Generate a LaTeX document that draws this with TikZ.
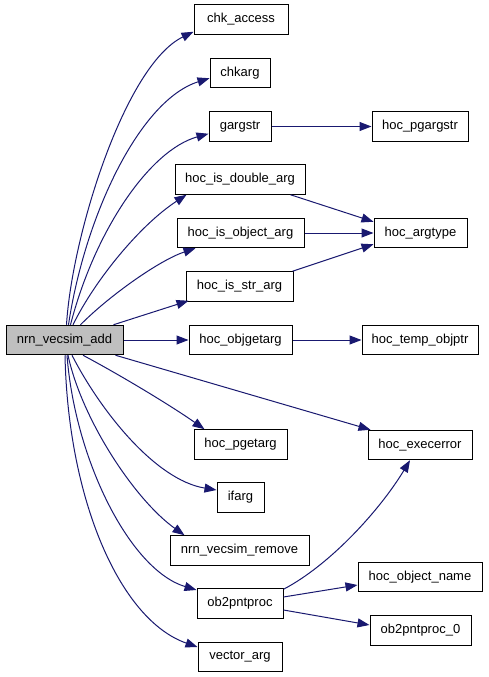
\documentclass[tikz,border=0pt]{standalone}
\usepackage{fontspec}
\setmainfont{Liberation Sans}
\usetikzlibrary{arrows.meta}
\definecolor{edgeblue}{HTML}{191970}
\definecolor{rootgrey}{HTML}{BFBFBF}
\begin{document}
\begin{tikzpicture}[x=1pt,y=-1pt,
  box/.style={draw=black,line width=1pt,fill=white,minimum height=29.5pt,inner sep=0pt,
    font=\fontsize{13}{15}\selectfont,anchor=center},
  rootbox/.style={box,fill=rootgrey},
  edge/.style={draw=edgeblue,line width=1pt,-{Triangle[length=12pt,width=9pt]},color=edgeblue}]
\useasboundingbox (0,0) rectangle (488,677);
\fill[white] (0,0) rectangle (488,677);
% nodes
\node[rootbox,minimum width=117pt] (root) at (64.5,340) {nrn\_vecsim\_add};
\node[box,minimum width=94pt] (chkaccess) at (241,19.5) {chk\_access};
\node[box,minimum width=60pt] (chkarg) at (240,73) {chkarg};
\node[box,minimum width=62pt] (gargstr) at (240,126.5) {gargstr};
\node[box,minimum width=130pt] (isdouble) at (240,179.5) {hoc\_is\_double\_arg};
\node[box,minimum width=127pt] (isobject) at (240.5,233) {hoc\_is\_object\_arg};
\node[box,minimum width=107pt] (isstr) at (239.5,286.5) {hoc\_is\_str\_arg};
\node[box,minimum width=103pt] (objgetarg) at (240.5,340) {hoc\_objgetarg};
\node[box,minimum width=93pt] (pgetarg) at (240.5,444.5) {hoc\_pgetarg};
\node[box,minimum width=47pt] (ifarg) at (240.5,497.5) {ifarg};
\node[box,minimum width=139pt] (remove) at (239.5,550.5) {nrn\_vecsim\_remove};
\node[box,minimum width=86pt] (ob2) at (240,603.5) {ob2pntproc};
\node[box,minimum width=84pt] (vecarg) at (240,657) {vector\_arg};
\node[box,minimum width=96pt] (pgargstr) at (420,126.5) {hoc\_pgargstr};
\node[box,minimum width=93pt] (argtype) at (420.5,233) {hoc\_argtype};
\node[box,minimum width=116pt] (tempobj) at (420,340) {hoc\_temp\_objptr};
\node[box,minimum width=104pt] (execerror) at (420,445) {hoc\_execerror};
\node[box,minimum width=124pt] (objname) at (420,577) {hoc\_object\_name};
\node[box,minimum width=101pt] (ob2zero) at (420.5,630.5) {ob2pntproc\_0};
% edges from root
\draw[edge] ([xshift=2pt]root.north) .. controls (72,235) and (125,65) .. ([yshift=3pt]chkaccess.south west);
\draw[edge] ([xshift=4pt]root.north) .. controls (85,215) and (140,100) .. ([yshift=10pt]chkarg.south west);
\draw[edge] ([xshift=6pt]root.north) .. controls (95,230) and (150,150) .. ([yshift=8pt]gargstr.south west);
\draw[edge] ([xshift=8.5pt]root.north) .. controls (95,280) and (140,225) .. ([xshift=12pt]isdouble.south west);
\draw[edge] ([xshift=16pt]root.north) .. controls (110,295) and (160,260) .. ([xshift=19pt]isobject.south west);
\draw[edge] ([xshift=-10pt]root.north east) -- ([xshift=3pt,yshift=1pt]isstr.south west);
\draw[edge] (root.east) -- (objgetarg.west);
\draw[edge] ([xshift=-8pt]root.south east) -- ([xshift=3pt]execerror.north west);
\draw[edge] ([xshift=18.5pt]root.south) .. controls (120,375) and (170,405) .. ([xshift=11pt]pgetarg.north west);
\draw[edge] ([xshift=7.5pt]root.south) .. controls (100,410) and (155,480) .. ([yshift=7.5pt]ifarg.west);
\draw[edge] ([xshift=3.5pt]root.south) .. controls (82,420) and (135,500) .. ([xshift=15pt]remove.north west);
\draw[edge] ([xshift=2.5pt]root.south) .. controls (75,460) and (130,570) .. ([yshift=13.5pt]ob2.west);
\draw[edge] ([xshift=0.5pt]root.south) .. controls (68,500) and (120,620) .. ([yshift=10pt]vecarg.west);
% second level
\draw[edge] (gargstr.east) -- (pgargstr.west);
\draw[edge] ([xshift=-15pt]isdouble.south east) -- ([yshift=-4pt]argtype.north west);
\draw[edge] (isobject.east) -- (argtype.west);
\draw[edge] ([xshift=-1pt]isstr.north east) -- ([yshift=4pt]argtype.south west);
\draw[edge] (objgetarg.east) -- (tempobj.west);
\draw[edge] ([yshift=-1pt]ob2.north east) .. controls (330,565) and (380,510) .. ([xshift=-10pt]execerror.south);
\draw[edge] ([yshift=6.5pt]ob2.east) -- ([yshift=-8pt]objname.west);
\draw[edge] ([yshift=-6.5pt]ob2.east) -- ([yshift=5.5pt]ob2zero.west);
\end{tikzpicture}
\end{document}
